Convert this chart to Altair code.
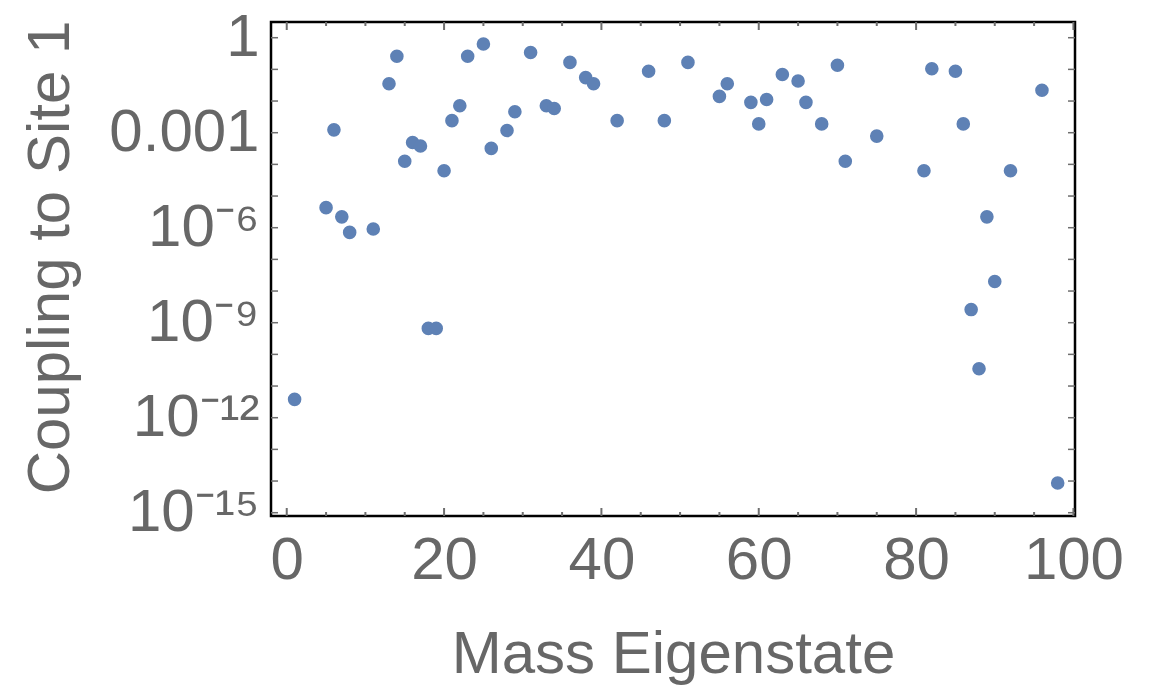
import altair as alt
import pandas as pd

# Mass eigenstate index and coupling to site 1
eigenstate = [1, 5, 6, 7, 8, 11, 13, 14, 15, 16, 17, 18, 19, 20, 21, 22, 23, 25, 26,
              28, 29, 31, 33, 34, 36, 38, 39, 42, 46, 48, 51, 55, 56, 59, 60, 61, 63,
              65, 66, 68, 70, 71, 75, 81, 82, 85, 86, 87, 88, 89, 90, 92, 96, 98]
coupling = [3.8e-12, 4.3e-6, 1.23e-3, 2.2e-6, 7.1e-7, 9.1e-7, 0.035, 0.26, 1.26e-4,
            4.9e-4, 3.8e-4, 6.6e-10, 6.6e-10, 6.3e-5, 2.4e-3, 7.1e-3, 0.26, 0.63,
            3.2e-4, 1.17e-3, 4.6e-3, 0.34, 7.1e-3, 5.8e-3, 0.166, 0.055, 0.035,
            2.4e-3, 0.087, 2.4e-3, 0.166, 0.014, 0.035, 9.1e-3, 1.9e-3, 0.0112,
            0.069, 0.043, 9.1e-3, 1.9e-3, 0.135, 1.26e-4, 7.8e-4, 6.3e-5, 0.105,
            0.087, 1.9e-3, 2.6e-9, 3.5e-11, 2.2e-6, 2.0e-8, 6.3e-5, 0.022, 8.7e-15]

# Axis ticks
x_major = [0, 20, 40, 60, 80, 100]
x_minor = [5, 10, 15, 25, 30, 35, 45, 50, 55, 65, 70, 75, 85, 90, 95]
y_decades = [1e0, 1e-1, 1e-2, 1e-3, 1e-4, 1e-5, 1e-6, 1e-7, 1e-8, 1e-9, 1e-10,
             1e-11, 1e-12, 1e-13, 1e-14, 1e-15]
y_label_values = [1, 1e-3, 1e-6, 1e-9, 1e-12, 1e-15]
y_label_exps = [0, -3, -6, -9, -12, -15]
y_label_texts = ["1", "0.001", "10⁻⁶", "10⁻⁹", "10⁻¹²", "10⁻¹⁵"]

W, H = 804, 494
FONT = "Liberation Sans"
GRAY = "#676767"
TICK = "#6e6e6e"

points = pd.DataFrame({"n": eigenstate, "c": coupling})
xmaj = pd.DataFrame({"n": x_major})
xmin = pd.DataFrame({"n": x_minor})
ydec = pd.DataFrame({"c": y_decades})

xscale = alt.Scale(domain=[-2.0, 100.2], nice=False, zero=False)
yscale = alt.Scale(type="log", domain=[10 ** -15.104, 10 ** 0.496], nice=False)

# label expression built from the label arrays
expr = "''"
for e, t in zip(reversed(y_label_exps), reversed(y_label_texts)):
    expr = f"(round(log(datum.value)/LN10) == {e} ? '{t}' : {expr})"

x_axis = alt.Axis(values=x_major, title="Mass Eigenstate", grid=False,
                  domain=False, ticks=False, labelFontSize=60,
                  labelFont=FONT, labelColor=GRAY, labelPadding=15,
                  labelFlush=False, titleFontSize=60, titleFont=FONT,
                  titleColor=GRAY, titleFontWeight="normal",
                  titleBaseline="alphabetic", titleY=156)
y_axis = alt.Axis(values=y_label_values, labelExpr=expr,
                  title="Coupling to Site 1", grid=False, domain=False,
                  ticks=False, labelFontSize=60, labelFont=FONT,
                  labelColor=GRAY, labelPadding=12, labelFlush=False,
                  labelBaseline="middle",
                  titleFontSize=60, titleFont=FONT, titleColor=GRAY,
                  titleFontWeight="normal", titleAngle=-90,
                  titleBaseline="alphabetic", titleX=-203, titleY=235,
                  titleAlign="center")

pts = alt.Chart(points).mark_circle(size=185, color="#5E81B5", opacity=1).encode(
    x=alt.X("n:Q", scale=xscale, axis=x_axis),
    y=alt.Y("c:Q", scale=yscale, axis=y_axis),
)

def xticks(df, length, width, top):
    if top:
        yv, y2v = alt.value(0), alt.value(length)
    else:
        yv, y2v = alt.value(H), alt.value(H - length)
    return alt.Chart(df).mark_rule(color=TICK, strokeWidth=width).encode(
        x=alt.X("n:Q", scale=xscale, axis=x_axis), y=yv, y2=y2v)

def yticks(df, length, width, right):
    if right:
        xv, x2v = alt.value(W), alt.value(W - length)
    else:
        xv, x2v = alt.value(0), alt.value(length)
    return alt.Chart(df).mark_rule(color=TICK, strokeWidth=width).encode(
        y=alt.Y("c:Q", scale=yscale, axis=y_axis), x=xv, x2=x2v)

chart = alt.layer(
    pts,
    xticks(xmaj, 8, 2, False), xticks(xmin, 4, 2, False),
    xticks(xmaj, 8, 2, True), xticks(xmin, 4, 2, True),
    yticks(ydec, 7, 1.5, False), yticks(ydec, 7, 1.5, True),
).properties(
    width=W, height=H,
    autosize=alt.AutoSizeParams(type="none"),
    padding={"left": 263, "top": 14, "right": 74, "bottom": 172},
).configure_view(stroke="black", strokeWidth=2.5)

chart.save("out.html", embed_options={"renderer": "svg", "actions": False})
